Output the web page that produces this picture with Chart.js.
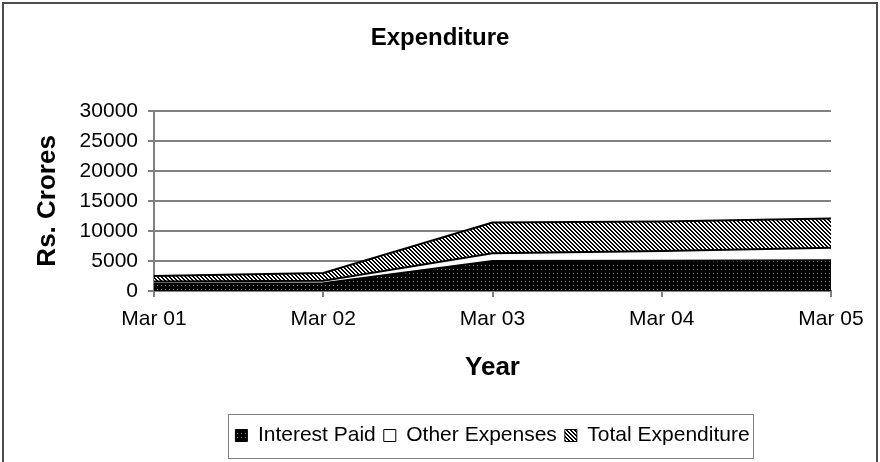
<!DOCTYPE html>
<html lang="en">
<head>
<meta charset="UTF-8">
<title>Expenditure</title>
<script src="https://cdn.jsdelivr.net/npm/chart.js"></script>
<style>
    body {
        margin: 0;
        background: #ffffff;
    }
    #wrap {
        width: 880px;
        height: 462px;
    }
</style>
</head>
<body>
<div id="wrap"><canvas id="chart" width="880" height="462"></canvas></div>
<script>
    // values (Rs. Crores)
    const years = ['Mar 01', 'Mar 02', 'Mar 03', 'Mar 04', 'Mar 05'];
    const interestPaid = [1200, 1300, 5000, 5050, 5100];
    const otherExpenses = [400, 400, 1300, 1600, 2100];
    const totalExpenditure = [900, 1300, 5100, 4900, 4850];
    const yMin = 0, yMax = 30000, yStep = 5000;

    const FONT = "'Liberation Sans', Arial, sans-serif";
    const canvas = document.getElementById('chart');
    const ctx = canvas.getContext('2d');

    // small tiles for the excel style fills
    function makePattern(draw) {
        const tile = document.createElement('canvas');
        tile.width = 4;
        tile.height = 4;
        draw(tile.getContext('2d'));
        return ctx.createPattern(tile, 'repeat');
    }
    const dotted = makePattern(g => {
        g.fillStyle = '#000';
        g.fillRect(0, 0, 4, 4);
        g.fillStyle = '#8c8c8c';
        g.fillRect(1, 1, 1, 1);
    });
    const hatched = makePattern(g => {
        g.fillStyle = '#fff';
        g.fillRect(0, 0, 4, 4);
        g.fillStyle = '#000';
        for (let y = 0; y < 4; y++) {
            g.fillRect(y % 4, y, 1, 1);
            g.fillRect((y + 1) % 4, y, 1, 1);
        }
    });

    const frame = {
        id: 'frame',
        beforeDraw(chart) {
            const c = chart.ctx;
            c.save();
            c.fillStyle = '#fff';
            c.fillRect(0, 0, chart.width, chart.height);
            c.strokeStyle = '#4d4d4d';
            c.lineWidth = 2;
            c.strokeRect(3, 3, chart.width - 6, chart.height + 40);
            c.restore();
        },
        afterDraw(chart) {
            // box round the legend like excel
            const boxes = chart.legend.legendHitBoxes;
            if (!boxes || !boxes.length) return;
            const first = boxes[0], last = boxes[boxes.length - 1];
            const cy = first.top + first.height / 2;
            const c = chart.ctx;
            c.save();
            c.strokeStyle = '#808080';
            c.lineWidth = 1;
            c.strokeRect(Math.round(first.left - 7) + 0.5, Math.round(cy - 22) + 0.5,
                Math.round(last.left + last.width - first.left + 11), 44);
            c.restore();
        }
    };

    new Chart(ctx, {
        type: 'line',
        data: {
            labels: years,
            datasets: [
                {
                    label: 'Interest Paid',
                    data: interestPaid,
                    backgroundColor: dotted,
                    borderColor: '#000',
                    borderWidth: 2,
                    fill: 'origin'
                },
                {
                    label: 'Other Expenses',
                    data: otherExpenses,
                    backgroundColor: '#fff',
                    borderColor: '#000',
                    borderWidth: 2,
                    fill: '-1'
                },
                {
                    label: 'Total Expenditure',
                    data: totalExpenditure,
                    backgroundColor: hatched,
                    borderColor: '#000',
                    borderWidth: 2,
                    fill: '-1'
                }
            ]
        },
        options: {
            responsive: false,
            animation: false,
            layout: { padding: { left: 0, right: 0, top: 0, bottom: 6 } },
            elements: {
                line: { tension: 0 },
                point: { radius: 0, hoverRadius: 0 }
            },
            plugins: {
                tooltip: { enabled: false },
                title: {
                    display: true,
                    text: 'Expenditure',
                    color: '#000',
                    font: { family: FONT, size: 24, weight: 'bold' },
                    padding: { top: 24, bottom: 58 }
                },
                legend: {
                    position: 'bottom',
                    fullSize: false,
                    labels: {
                        color: '#000',
                        font: { family: FONT, size: 21 },
                        boxWidth: 12,
                        boxHeight: 12,
                        padding: 8,
                        generateLabels(chart) {
                            const items = Chart.defaults.plugins.legend.labels.generateLabels(chart);
                            items.forEach(it => { it.lineWidth = 1; });
                            return items;
                        }
                    }
                }
            },
            scales: {
                x: {
                    offset: false,
                    afterFit(scale) { scale.height = 126; },
                    border: { display: true, color: '#808080', width: 2 },
                    grid: { drawOnChartArea: false, drawTicks: true, tickLength: 6, color: '#808080', lineWidth: 2 },
                    ticks: { color: '#000', font: { family: FONT, size: 21 }, padding: 10, maxRotation: 0 },
                    title: {
                        display: true,
                        text: 'Year',
                        color: '#000',
                        font: { family: FONT, size: 26, weight: 'bold' },
                        padding: { top: 0, bottom: 34 }
                    }
                },
                y: {
                    stacked: true,
                    min: yMin,
                    max: yMax,
                    afterFit(scale) { scale.width = 154; },
                    border: { display: true, color: '#808080', width: 2 },
                    grid: { color: '#808080', lineWidth: 2, drawTicks: true, tickLength: 6 },
                    ticks: {
                        stepSize: yStep,
                        color: '#000',
                        font: { family: FONT, size: 21 },
                        padding: 10,
                        callback: v => String(v)
                    },
                    title: {
                        display: true,
                        text: 'Rs. Crores',
                        color: '#000',
                        font: { family: FONT, size: 26, weight: 'bold' },
                        padding: { top: 32, bottom: 0 }
                    }
                },
                // empty right-hand strip so the plot ends where the reference does
                spacer: {
                    type: 'linear',
                    position: 'right',
                    display: true,
                    afterFit(scale) { scale.width = 49; },
                    border: { display: false },
                    grid: { display: false, drawTicks: false },
                    ticks: { display: false }
                }
            }
        },
        plugins: [frame]
    });
</script>
</body>
</html>
